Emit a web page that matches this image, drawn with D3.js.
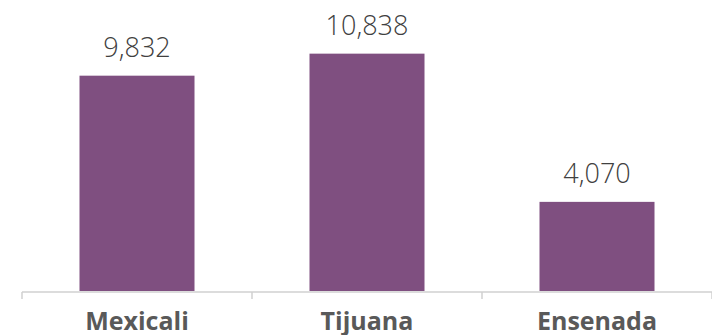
<!DOCTYPE html>
<html><head><meta charset="utf-8">
<script src="https://cdn.jsdelivr.net/npm/d3@7"></script>
<style>body{margin:0;background:#fff}svg{display:block}</style>
</head><body>
<svg id="c" width="712" height="335"></svg>
<script>
const categories = ["Mexicali", "Tijuana", "Ensenada"];
const values = [9832, 10838, 4070];

const svg = d3.select("#c");
const x = d3.scaleBand().domain(categories).range([22, 712]).paddingInner(0.5).paddingOuter(0.25);
const y = d3.scaleLinear().domain([0, 12000]).range([291, 28.2]);

// axis line
svg.append("line").attr("x1", 22).attr("x2", 712).attr("y1", 292).attr("y2", 292)
  .attr("stroke", "#d0d0d0").attr("stroke-width", 1.5);
const bounds = [22, 22 + x.step(), 22 + 2 * x.step(), 712];
svg.selectAll(".tk").data(bounds).enter().append("line")
  .attr("x1", d => d).attr("x2", d => d).attr("y1", 292).attr("y2", 299)
  .attr("stroke", "#d0d0d0").attr("stroke-width", 1.5);

svg.selectAll(".bar").data(values).enter().append("rect")
  .attr("x", (d, i) => x(categories[i]))
  .attr("width", x.bandwidth())
  .attr("y", d => y(d))
  .attr("height", d => y(0) - y(d))
  .attr("fill", "#7f4f80");

svg.selectAll(".val").data(values).enter().append("text")
  .attr("x", (d, i) => x(categories[i]) + x.bandwidth() / 2)
  .attr("y", d => y(d) - 19)
  .attr("text-anchor", "middle")
  .attr("font-family", "'Open Sans'").attr("font-weight", 300)
  .attr("font-size", 27).attr("fill", "#404040")
  .text(d => d3.format(",")(d));

svg.selectAll(".cat").data(categories).enter().append("text")
  .attr("x", d => x(d) + x.bandwidth() / 2)
  .attr("y", 330)
  .attr("text-anchor", "middle")
  .attr("font-family", "'Open Sans'").attr("font-weight", 700)
  .attr("font-size", 25).attr("fill", "#595959")
  .text(d => d);
</script>
</body></html>
